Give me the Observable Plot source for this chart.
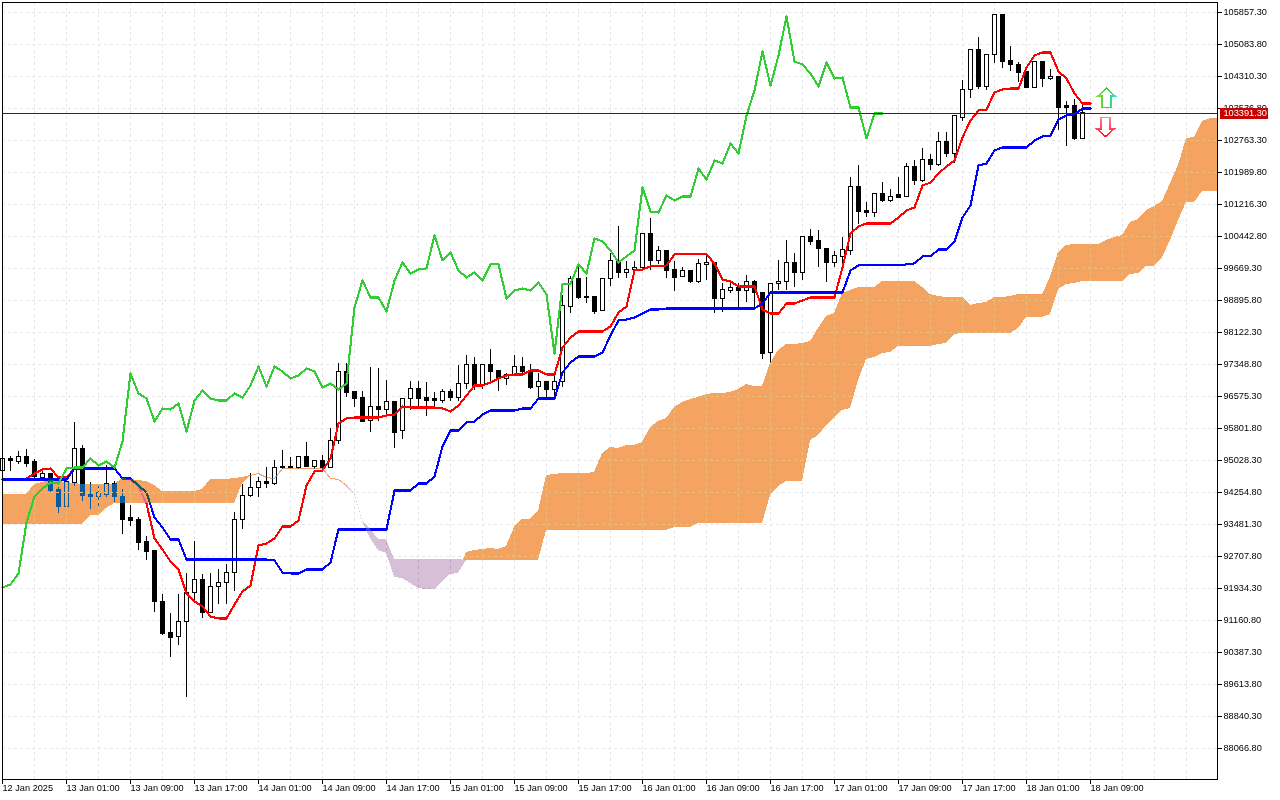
<!DOCTYPE html>
<html>
<head>
<meta charset="utf-8">
<script src="https://cdn.jsdelivr.net/npm/d3@7"></script>
<script src="https://cdn.jsdelivr.net/npm/@observablehq/plot@0.6"></script>
<style>html,body{margin:0;padding:0;background:#fff;overflow:hidden}</style>
</head>
<body>
<div id="chart"></div>
<script>
const open = [
94786,95053,95004,95101,94980,94617,94690,94327,93916,94496,
95295,94206,94158,94206,94472,94158,93627,93578,93047,92829,
91620,90847,90750,91113,91814,92129,91330,91959,92056,92298,
93578,94182,94375,94520,94472,94835,94883,94835,95101,94883,
95028,94859,95488,97156,96673,96527,95995,96310,96261,96431,
95730,96503,96745,96527,96503,96455,96673,96527,96866,97325,
96818,97325,97180,96987,97084,97277,97180,96794,96914,96721,
96914,98727,99404,98969,98969,98630,99404,99840,99549,99645,
99671,100492,99840,100081,99621,99452,99597,99355,99743,99792,
98920,99114,99186,99114,99355,99066,97615,99283,99331,99792,
99549,100419,100323,100129,99792,99936,100081,101651,101071,100999,
101458,101289,101434,101409,102111,101796,102304,102183,102715,102425,
103296,103972,104939,104068,104818,105785,104673,104600,104407,104044,
104649,104238,104310,103586,103586,102788,103416];
const close = [
95053,95028,95101,94955,94641,94690,94303,93916,94520,95295,
94182,94158,94231,94472,94134,93602,93554,93022,92805,91596,
90823,90726,91113,91814,92129,91330,91959,92056,92298,93578,
94182,94375,94520,94472,94835,94883,94835,95101,94883,95028,
94835,95488,97156,96649,96503,95947,96310,96261,96431,95705,
96503,96745,96503,96455,96455,96673,96527,96866,97325,96818,
97325,97156,96987,97084,97277,97156,96770,96914,96721,96914,
98751,99404,98945,98945,98606,99404,99840,99549,99645,99671,
100492,99840,100081,99597,99428,99597,99355,99768,99792,98920,
99138,99186,99114,99355,99066,97591,99283,99331,99792,99549,
100419,100298,100129,99792,99961,100105,101651,101047,100999,101458,
101289,101409,101385,102111,101796,102304,102183,102715,102425,103344,
103972,104939,104068,104818,105785,104649,104600,104383,104044,104649,
104238,104310,103537,103537,102788,103416,103416];
const high = [
95077,95125,95246,95295,95053,94786,94714,94375,94569,95947,
95391,94496,94400,94907,94520,94327,93941,93651,93192,92829,
91790,91330,91790,92298,93071,92273,92298,92394,92515,93771,
94448,94714,94617,94859,95028,95270,95101,95125,95464,95028,
95150,95802,97374,97374,96697,96697,97277,97253,96963,96431,
96527,96939,96939,96914,96673,96745,96745,97325,97567,97519,
97325,97712,97180,97132,97567,97519,97349,97132,96914,97132,
99017,99476,99743,99452,98969,99428,100033,100685,99840,99840,
100516,100878,100202,100081,99840,99695,99597,99888,100033,99792,
99307,99380,99307,99500,99380,99066,99307,99864,100347,100033,
100443,100612,100588,100129,100081,100419,101869,102159,101265,101482,
101748,101579,101869,102207,102280,102570,102425,102958,102958,103344,
104214,104963,105253,104818,105785,105785,105036,104649,104407,104649,
104649,104480,104310,103706,103755,103634,103416];
const low = [
94762,94762,94931,94859,94520,94569,94255,93747,93916,94400,
94037,93844,93916,94134,94013,93240,93433,92853,92612,91355,
90798,90266,90557,89299,91645,91210,91330,91548,91548,91862,
93361,94134,94134,94351,94424,94810,94835,94810,94859,94810,
94810,94859,95415,96551,96310,95947,95705,95971,96116,95319,
95536,96237,96286,96092,96334,96406,96455,96455,96745,96721,
96745,96890,96697,96842,97084,97084,96745,96527,96503,96527,
96794,98582,98920,98824,98558,98630,99235,99428,99428,99549,
99621,99621,99768,99428,99114,99452,99307,99307,99380,98582,
98606,99066,98727,98848,98727,97470,97325,99138,99138,99210,
99380,100226,99695,99331,99695,99645,99985,100733,100902,100902,
101265,101265,101361,101409,101675,101748,102038,102135,102352,102207,
103223,103779,103996,103972,104625,104504,104431,104165,104020,104020,
104044,104214,103006,102618,102763,102788,103416];
const tenkan = [
94569,94569,94569,94593,94714,94810,94835,94617,94617,94835,
94835,94835,94835,94835,94835,94593,94569,94400,93989,93143,
92877,92588,92394,91814,91620,91500,91258,91210,91210,91548,
91862,92008,92974,93022,93143,93433,93433,93578,94424,94762,
94786,95077,95923,96044,96068,96068,96068,96068,96116,96140,
96334,96310,96310,96310,96310,96286,96213,96358,96600,96842,
96842,96914,97011,97084,97108,97108,97204,97204,97108,97108,
97760,98002,98147,98147,98147,98147,98268,98606,98751,99621,
99645,99719,99719,99743,100009,100009,100009,100009,100009,99792,
99404,99355,99235,99235,99235,98679,98582,98582,98824,98824,
98896,98969,98969,98969,98969,99695,100516,100685,100757,100757,
100757,100757,100902,101071,101144,101675,101748,101966,102135,102280,
102837,103247,103489,103513,103924,103996,104020,104020,104528,104818,
104891,104891,104431,104262,103900,103658,103658];
const kijun = [
94569,94569,94569,94569,94569,94569,94569,94569,94569,94835,
94835,94835,94835,94835,94835,94593,94593,94424,94255,93651,
93409,93119,93119,92636,92636,92636,92636,92636,92636,92636,
92636,92636,92636,92636,92612,92322,92298,92298,92394,92394,
92394,92563,93361,93361,93361,93361,93361,93361,93361,94303,
94303,94303,94472,94472,94641,95367,95754,95754,95947,95971,
96140,96237,96237,96237,96237,96286,96286,96527,96527,96527,
97156,97398,97543,97543,97543,97639,98050,98413,98437,98486,
98582,98679,98679,98703,98703,98703,98703,98703,98703,98703,
98703,98703,98703,98703,98703,98824,99090,99090,99090,99090,
99090,99090,99090,99090,99090,99090,99621,99743,99743,99743,
99743,99743,99743,99768,99792,99961,99961,100129,100129,100323,
100902,101192,102159,102207,102522,102594,102594,102594,102594,102763,
102861,102885,103272,103368,103392,103537,103537];
const chikou = [
91959,92032,92298,93530,94158,94351,94496,94472,94835,94859,
94859,95077,94907,95004,94859,95488,97132,96649,96527,95971,
96286,96261,96406,95730,96479,96721,96527,96479,96479,96649,
96551,96842,97301,96818,97301,97180,97011,97084,97253,97180,
96794,96890,96745,96890,98727,99380,98969,98969,98630,99380,
99816,99549,99645,99671,100467,99864,100057,99621,99452,99573,
99380,99768,99768,98945,99138,99186,99138,99331,99041,97615,
99283,99307,99768,99549,100395,100323,100105,99816,99961,100105,
101627,101047,101023,101434,101313,101409,101409,102086,101820,102280,
102207,102691,102449,103368,103972,104915,104092,104818,105760,104673,
104600,104383,104068,104649,104262,104286,103561,103561,102813,103416,
103416];
const cloudTop = [
94206,94206,94206,94206,94448,94496,94545,94520,94496,94472,
94448,94448,94448,94448,94448,94593,94569,94545,94520,94424,
94279,94279,94279,94279,94279,94327,94569,94569,94569,94593,
94617,94665,94714,94617,94593,94835,94835,94835,94835,94835,
94835,94593,94569,94424,94255,93578,93361,93119,93119,92636,
92636,92636,92636,92636,92636,92636,92636,92636,92805,92853,
92877,92902,92877,92950,93409,93602,93602,93796,94665,94690,
94714,94714,94714,94714,94738,95198,95343,95319,95391,95391,
95464,95826,95971,96044,96310,96431,96503,96551,96625,96649,
96649,96673,96745,96866,96818,96818,97374,97688,97833,97833,
97857,97905,98219,98510,98582,99066,99138,99210,99210,99210,
99355,99355,99355,99355,99355,99210,99041,98993,98969,98969,
98969,98775,98824,98848,98969,98969,98993,99041,99041,99041,
99041,99452,100057,100226,100250,100250,100250,100250,100347,100419,
100467,100781,100854,101071,101168,101289,101724,102159,102813,102837,
103223,103296];
const cloudBottom = [
93481,93481,93481,93481,93481,93481,93481,93481,93481,93481,
93481,93699,93699,93868,93989,93989,93989,93989,93989,93989,
93989,93989,93989,93989,93989,93989,93989,93989,93989,93989,
94472,94641,94690,94593,94569,94810,94810,94810,94810,94810,
94810,94569,94545,94375,94231,93554,93143,92853,92781,92201,
92177,92056,91934,91910,91910,92080,92273,92298,92612,92612,
92612,92612,92612,92612,92612,92612,92612,92612,93336,93336,
93336,93336,93336,93336,93336,93336,93336,93336,93336,93336,
93336,93336,93336,93336,93409,93409,93409,93506,93506,93506,
93506,93506,93506,93506,93506,93506,94182,94400,94520,94520,
94520,95512,95633,95874,96044,96237,96286,96963,97470,97519,
97615,97639,97784,97784,97784,97784,97784,97833,97857,98074,
98098,98098,98098,98098,98098,98098,98098,98219,98486,98486,
98486,98558,99162,99283,99307,99355,99355,99355,99355,99355,
99355,99524,99549,99719,99719,99936,100347,100830,101265,101265,
101531,101531];

const yTicks = [105857.3,105083.8,104310.3,103536.8,102763.3,101989.8,101216.3,100442.8,99669.3,98895.8,98122.3,97348.8,96575.3,95801.8,95028.3,94254.8,93481.3,92707.8,91934.3,91160.8,90387.3,89613.8,88840.3,88066.8];
const xTickLabels = ["12 Jan 2025","13 Jan 01:00","13 Jan 09:00","13 Jan 17:00","14 Jan 01:00","14 Jan 09:00","14 Jan 17:00","15 Jan 01:00","15 Jan 09:00","15 Jan 17:00","16 Jan 01:00","16 Jan 09:00","16 Jan 17:00","17 Jan 01:00","17 Jan 09:00","17 Jan 17:00","18 Jan 01:00","18 Jan 09:00"];
const xTickBars = xTickLabels.map((_, k) => k * 8);
const xGridBars = d3.range(4, 152, 4);
const lastPrice = 103391.3;
const buyArrow = {bar: 138, price: 103791};
const sellArrow = {bar: 137.875, price: 103090};
const lastBar = 151.875;

const candles = open.map((o, i) => ({i, o, c: close[i], h: high[i], l: low[i]}));
const rows = cloudTop.map((t, i) => ({i, t, b: cloudBottom[i]}));
const lineRows = arr => arr.map((v, i) => ({i, v}));
const cloudEnd = {i: lastBar, t: cloudTop[cloudTop.length - 1], b: cloudBottom[cloudBottom.length - 1]};

const ORANGE_XOR = "#0b5b9f";   // white minus sandybrown
const THISTLE_XOR = "#274027";  // white minus thistle
const GRID = "#e6e6e6";

const arrowUp = {draw(c){c.moveTo(0,-9.5);c.lineTo(8.5,-2);c.lineTo(4.5,-2);c.lineTo(4.5,9.5);c.lineTo(-4.5,9.5);c.lineTo(-4.5,-2);c.lineTo(-8.5,-2);c.closePath();}};
const arrowDown = {draw(c){c.moveTo(0,9.5);c.lineTo(8.5,2);c.lineTo(4.5,2);c.lineTo(4.5,-9.5);c.lineTo(-4.5,-9.5);c.lineTo(-4.5,2);c.lineTo(-8.5,2);c.closePath();}};

const svg = Plot.plot({
  width: 1280, height: 800,
  marginLeft: 2, marginRight: 63, marginTop: 2, marginBottom: 21,
  style: {fontFamily: "Liberation Sans", fontSize: "9.2px", background: "white", color: "black"},
  x: {type: "linear", domain: [0, lastBar], axis: null},
  y: {type: "linear", domain: [87317.4, 106099], axis: null},
  marks: [
    Plot.gridX(xGridBars, {stroke: GRID, strokeOpacity: 1, strokeDasharray: "3,3"}),
    Plot.gridY(yTicks, {stroke: GRID, strokeOpacity: 1, strokeDasharray: "3,3"}),
    Plot.ruleX(candles, {x: "i", y1: "l", y2: "h", stroke: "black"}),
    Plot.rect(candles, {x1: d => d.i - 0.25, x2: d => d.i + 0.25, y1: "o", y2: "c",
      fill: d => d.c >= d.o ? "white" : "black", stroke: "black"}),
    Plot.line(lineRows(tenkan), {x: "i", y: "v", stroke: "#ff0000", strokeWidth: 2.1}),
    Plot.line(lineRows(kijun), {x: "i", y: "v", stroke: "#0000ff", strokeWidth: 2.1}),
    // the cloud is XOR-like over what lies below it, as in the original terminal
    Plot.areaY(rows.slice(0, 33), {x: "i", y1: "b", y2: "t", fill: ORANGE_XOR, mixBlendMode: "difference"}),
    Plot.line(rows.slice(32, 44), {x: "i", y: "t", stroke: ORANGE_XOR, strokeWidth: 1, mixBlendMode: "difference"}),
    Plot.areaY(rows.slice(43, 58).concat({i: 58, t: rows[58].b, b: rows[58].b}), {x: "i", y1: "b", y2: "t", fill: THISTLE_XOR, mixBlendMode: "difference"}),
    Plot.areaY([{i: 57.6, t: rows[58].b, b: rows[58].b}].concat(rows.slice(58), cloudEnd), {x: "i", y1: "b", y2: "t", fill: ORANGE_XOR, mixBlendMode: "difference"}),
    Plot.line(lineRows(chikou), {x: "i", y: "v", stroke: "#32cd32", strokeWidth: 2.1}),
    Plot.ruleY([lastPrice], {stroke: "#8b0000", dy: -1}),
    Plot.frame({stroke: "black"}),
    Plot.axisY(yTicks, {anchor: "right", tickSize: 4, tickPadding: 2, label: null, tickFormat: d => d.toFixed(2)}),
    Plot.axisX(xTickBars, {anchor: "bottom", tickSize: 5, tickPadding: 0, label: null, textAnchor: "start", tickFormat: i => xTickLabels[i / 8]}),
    Plot.rect([lastPrice], {x1: () => 152.25, x2: () => 158.25, y1: d => d - 133, y2: d => d + 133, fill: "#c80000", dy: -1}),
    Plot.text([lastPrice], {x: () => 152.625, y: d => d, text: d => d.toFixed(2), fill: "white", textAnchor: "start", dy: -1}),
    Plot.dot([buyArrow], {x: "bar", y: "price", r: 1, symbol: arrowUp, fill: "white", stroke: "url(#upGrad)"}),
    Plot.dot([sellArrow], {x: "bar", y: "price", r: 1, symbol: arrowDown, fill: "white", stroke: "url(#downGrad)"})
  ]
});
svg.style.shapeRendering = "crispEdges";
svg.style.display = "block";

// gradient outlines of the two arrows and lighter grid dashes inside the orange cloud
const root = d3.select(svg);
const defs = root.insert("defs", ":first-child");
const up = defs.append("linearGradient").attr("id", "upGrad").attr("x1", 0).attr("x2", 1).attr("y1", 0).attr("y2", 0);
up.append("stop").attr("offset", "0%").attr("stop-color", "#8fdc3a");
up.append("stop").attr("offset", "50%").attr("stop-color", "#32cd32");
up.append("stop").attr("offset", "100%").attr("stop-color", "#40e0d0");
const dn = defs.append("linearGradient").attr("id", "downGrad").attr("x1", 0).attr("x2", 0).attr("y1", 0).attr("y2", 1);
dn.append("stop").attr("offset", "0%").attr("stop-color", "#ff7fa8");
dn.append("stop").attr("offset", "100%").attr("stop-color", "#ff1a1a");
const clip = defs.append("clipPath").attr("id", "cloudClip");
const byAttr = (attr, val) => Array.from(svg.querySelectorAll("g")).filter(g => (g.getAttribute(attr) || "").toLowerCase() === val);
const clouds = byAttr("fill", ORANGE_XOR);
clouds.forEach(g => g.querySelectorAll("path").forEach(p => {
  const tr = [g.getAttribute("transform"), p.parentNode !== g ? p.parentNode.getAttribute("transform") : null].filter(Boolean).join(" ");
  clip.append("path").attr("d", p.getAttribute("d")).attr("transform", tr || null);
}));
if (clouds.length) {
  const last = clouds[clouds.length - 1];
  const overlay = document.createElementNS("http://www.w3.org/2000/svg", "g");
  overlay.setAttribute("clip-path", "url(#cloudClip)");
  last.parentNode.insertBefore(overlay, last.nextSibling);
  byAttr("stroke", GRID).forEach(g => {
    const c = g.cloneNode(true);
    c.setAttribute("stroke", "#edbd79");
    overlay.appendChild(c);
  });
}
document.getElementById("chart").appendChild(svg);
</script>
</body>
</html>
